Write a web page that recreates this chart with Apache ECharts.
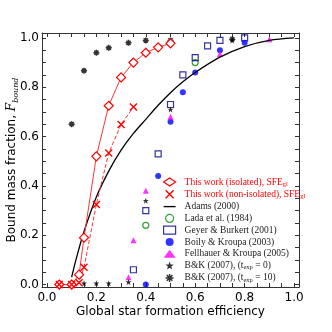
<!DOCTYPE html>
<html>
<head>
<meta charset="utf-8">
<script src="https://cdn.jsdelivr.net/npm/echarts@6/dist/echarts.min.js"></script>
<style>
html, body { margin: 0; padding: 0; background: #fff; }
#chart { width: 332px; height: 332px; }
</style>
</head>
<body>
<div id="chart"></div>
<script>
// values, [sfe, bound fraction]
var isolated    = [[0.05,0],[0.1,0],[0.13,0.04],[0.15,0.19],[0.2,0.52],[0.25,0.725],[0.3,0.84],[0.35,0.9],[0.4,0.94],[0.45,0.962],[0.5,0.978]];
var nonIsolated = [[0.05,0],[0.1,0],[0.13,0.007],[0.15,0.07],[0.2,0.325],[0.25,0.533],[0.3,0.649],[0.35,0.72]];
var adams       = [[0.1,0.03],[0.12,0.11],[0.15,0.215],[0.2,0.355],[0.25,0.46],[0.3,0.545],[0.35,0.613],[0.4,0.67],[0.45,0.727],[0.5,0.778],[0.55,0.822],[0.6,0.86],[0.7,0.922],[0.8,0.965],[0.9,0.99],[1.0,1.0]];
var lada        = [[0.4,0.24],[0.6,0.9]];
var geyer       = [[0.35,0.06],[0.4,0.3],[0.45,0.53],[0.5,0.73],[0.55,0.85],[0.6,0.92],[0.65,0.968],[0.7,0.99],[0.8,1.0]];
var boily       = [[0.4,0],[0.45,0.44],[0.5,0.66],[0.55,0.78],[0.6,0.86],[0.7,0.95],[0.8,0.98]];
var fellhauer   = [[0.33,0.03],[0.35,0.18],[0.4,0.38],[0.5,0.68],[0.7,0.935],[0.9,0.995]];
var bk0         = [[0.05,0],[0.1,0],[0.15,0.005],[0.2,0.005],[0.25,0.005],[0.33,0.01],[0.4,0.34],[0.5,0.71],[0.75,0.99]];
var bk10        = [[0.1,0.65],[0.15,0.867],[0.2,0.94],[0.25,0.96],[0.33,0.98],[0.4,0.99],[0.5,0.99],[0.75,0.995]];

var xLabels = [0, 0.2, 0.4, 0.6, 0.8, 1.0];
var yLabels = [0, 0.2, 0.4, 0.6, 0.8, 1.0];
var minorTicks = [0,0.05,0.1,0.15,0.2,0.25,0.3,0.35,0.4,0.45,0.5,0.55,0.6,0.65,0.7,0.75,0.8,0.85,0.9,0.95,1.0];

var names = [
    'This work (isolated), SFE_gl',
    'This work (non-isolated), SFE_gl',
    'Adams (2000)',
    'Lada et al. (1984)',
    'Geyer & Burkert (2001)',
    'Boily & Kroupa (2003)',
    'Fellhauer & Kroupa (2005)',
    'B&K (2007), t0',
    'B&K (2007), t10'
];

var xMark = 'path://M0,0L10,10M10,0L0,10';
var star5 = 'path://M5,0L6.2,3.4L9.8,3.5L7,5.7L8,9.3L5,7.2L2,9.3L3,5.7L0.2,3.5L3.8,3.4Z';
var aster = 'path://M5,0L5,10M0,5L10,5M1.5,1.5L8.5,8.5M8.5,1.5L1.5,8.5';
var bar = 'path://M0,0L10,0L10,1.1L0,1.1Z';

var chart = echarts.init(document.getElementById('chart'));

function xAx(pos, withLabels) {
    return {
        type: 'value', min: -0.02, max: 1.02, position: pos,
        axisLine: {show: true, onZero: false, lineStyle: {color: '#333', width: 1}},
        axisTick: {show: true, inside: true, length: 4, customValues: minorTicks, lineStyle: {color: '#333'}},
        axisLabel: {show: withLabels, customValues: xLabels, margin: 5, color: '#000', fontSize: 12,
            fontFamily: 'DejaVu Sans', formatter: function (v) { return v.toFixed(1); }},
        splitLine: {show: false}
    };
}
function yAx(pos, withLabels) {
    return {
        type: 'value', min: -0.01, max: 1.02, position: pos,
        axisLine: {show: true, onZero: false, lineStyle: {color: '#333', width: 1}},
        axisTick: {show: true, inside: true, length: 4, customValues: minorTicks, lineStyle: {color: '#333'}},
        axisLabel: {show: withLabels, customValues: yLabels, margin: 3, color: '#000', fontSize: 12,
            fontFamily: 'DejaVu Sans', formatter: function (v) { return v.toFixed(1); }},
        splitLine: {show: false}
    };
}

var xb = xAx('bottom', true);
xb.name = 'Global star formation efficiency';
xb.nameLocation = 'middle';
xb.nameGap = 19;
xb.nameMoveOverlap = false;
xb.nameTextStyle = {fontSize: 12, color: '#000', fontFamily: 'DejaVu Sans'};

var yl = yAx('left', true);
yl.name = '{a|Bound mass fraction, }{f|F}{s|bound}';
yl.nameLocation = 'middle';
yl.nameGap = 22;
yl.nameMoveOverlap = false;
yl.nameTextStyle = {
    color: '#000',
    rich: {
        a: {fontSize: 12, fontFamily: 'DejaVu Sans', lineHeight: 16, color: '#000'},
        f: {fontSize: 12, fontFamily: 'DejaVu Serif', fontStyle: 'italic', lineHeight: 16, color: '#000'},
        s: {fontSize: 8, fontFamily: 'DejaVu Serif', fontStyle: 'italic', lineHeight: 8, verticalAlign: 'bottom', color: '#000'}
    }
};

chart.setOption({
    animation: false,
    grid: {left: 42, right: 33, top: 33, bottom: 45, containLabel: false, outerBoundsMode: 'none'},
    xAxis: [xb, xAx('top', false)],
    yAxis: [yl, yAx('right', false)],
    legend: {
        orient: 'vertical', left: 163, top: 177, padding: 0,
        itemWidth: 12, itemHeight: 8, itemGap: 1.8,
        textStyle: {
            fontFamily: 'Liberation Serif', fontSize: 9.5, color: '#222',
            rich: {
                sp: {width: 4},
                r: {fontFamily: 'Liberation Serif', fontSize: 9.5, color: '#f00', lineHeight: 11},
                rs: {fontFamily: 'Liberation Serif', fontSize: 6.5, color: '#f00', lineHeight: 6, verticalAlign: 'bottom'},
                k: {fontFamily: 'Liberation Serif', fontSize: 9.5, color: '#222', lineHeight: 11},
                ks: {fontFamily: 'Liberation Serif', fontSize: 6.5, color: '#222', lineHeight: 6, verticalAlign: 'bottom'}
            }
        },
        formatter: function (name) {
            if (name === names[0]) return '{sp|}{r|This work (isolated), SFE}{rs|gl}';
            if (name === names[1]) return '{sp|}{r|This work (non-isolated), SFE}{rs|gl}';
            if (name === names[7]) return '{sp|}{k|B&K (2007), (t}{ks|exp}{k| = 0)}';
            if (name === names[8]) return '{sp|}{k|B&K (2007), (t}{ks|exp}{k| = 10)}';
            return '{sp|}{k|' + name + '}';
        },
        data: [
            {name: names[0], icon: 'diamond', itemStyle: {color: '#fff', borderColor: '#f00', borderWidth: 1.2}},
            {name: names[1], icon: xMark, itemStyle: {color: 'transparent', borderColor: '#f00', borderWidth: 1.4}},
            {name: names[2], icon: bar, itemStyle: {color: '#000'}},
            {name: names[3], icon: 'circle', itemStyle: {color: '#fff', borderColor: '#080', borderWidth: 1.2}},
            {name: names[4], icon: 'rect', itemStyle: {color: '#fff', borderColor: '#00008b', borderWidth: 1.2}},
            {name: names[5], icon: 'circle', itemStyle: {color: '#00f'}},
            {name: names[6], icon: 'triangle', itemStyle: {color: '#f0f'}},
            {name: names[7], icon: star5, itemStyle: {color: '#000'}},
            {name: names[8], icon: aster, itemStyle: {color: 'transparent', borderColor: '#000', borderWidth: 1.5}}
        ]
    },
    series: [
        {
            name: names[2], type: 'line', data: adams, smooth: 0.3, symbol: 'none',
            lineStyle: {color: '#000', width: 1.3}, itemStyle: {color: '#000'}
        },
        {
            name: names[0], type: 'line', data: isolated, symbol: 'diamond', symbolSize: 9,
            lineStyle: {color: '#f33', width: 1}, itemStyle: {color: '#fff', borderColor: '#f00', borderWidth: 1.2}
        },
        {
            name: names[1], type: 'line', data: nonIsolated, symbol: xMark, symbolSize: 7,
            lineStyle: {color: '#f33', width: 1, type: 'dashed'}, itemStyle: {color: 'transparent', borderColor: '#f00', borderWidth: 1.4}
        },
        {
            name: names[3], type: 'scatter', data: lada, symbol: 'circle', symbolSize: 6,
            itemStyle: {color: 'transparent', borderColor: '#080', borderWidth: 1.2}
        },
        {
            name: names[4], type: 'scatter', data: geyer, symbol: 'rect', symbolSize: 6,
            itemStyle: {color: 'transparent', borderColor: '#00008b', borderWidth: 1.2}
        },
        {
            name: names[5], type: 'scatter', data: boily, symbol: 'circle', symbolSize: 6,
            itemStyle: {color: '#00f'}
        },
        {
            name: names[6], type: 'scatter', data: fellhauer, symbol: 'triangle', symbolSize: 6,
            itemStyle: {color: '#f0f'}
        },
        {
            name: names[7], type: 'scatter', data: bk0, symbol: star5, symbolSize: 6,
            itemStyle: {color: '#000'}
        },
        {
            name: names[8], type: 'scatter', data: bk10, symbol: aster, symbolSize: 6,
            itemStyle: {color: 'transparent', borderColor: '#000', borderWidth: 1.5}
        }
    ]
});
</script>
</body>
</html>
